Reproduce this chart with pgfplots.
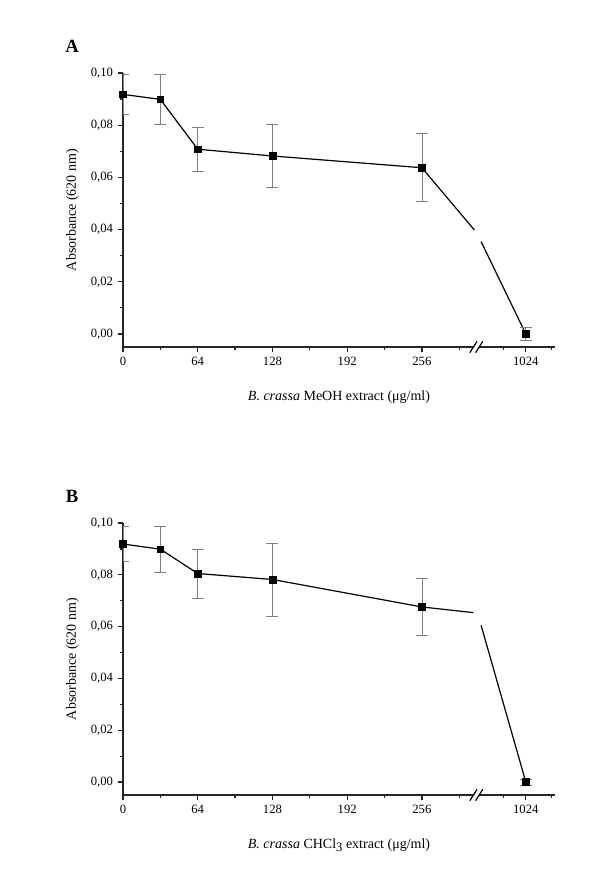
\documentclass[border=0pt]{standalone}
\usepackage{pgfplots}
\pgfplotsset{compat=1.18}
\usepackage{fontspec}
\setmainfont{Liberation Serif}
\begin{document}
\begin{tikzpicture}
\path[use as bounding box] (0pt,0pt) rectangle (450pt,-658.5pt);
\pgfplotsset{
 myax/.style={
  scale only axis, width=324pt,
  axis x line*=bottom, axis y line*=left,
  axis line style={-, line width=1.1pt, black!85},
  xmin=0, xmax=370, ymin=-0.005, ymax=0.10,
  xtick={0,64,128,192,256,345}, xticklabels={0,64,128,192,256,1024},
  minor xtick={32,96,160,224,288,326,367},
  ytick={0,0.02,0.04,0.06,0.08,0.10},
  yticklabels={{0,00},{0,02},{0,04},{0,06},{0,08},{0,10}},
  minor ytick={0.01,0.03,0.05,0.07,0.09},
  tick align=outside, major tick length=4pt, minor tick length=2.5pt,
  tick style={line width=0.9pt, black!85},
  tick label style={font=\fontsize{9.5}{11}\selectfont},
  label style={font=\fontsize{10.5}{12}\selectfont},
  xlabel style={yshift=-12pt},
  ylabel style={yshift=2pt},
  ylabel={Absorbance (620 nm)},
  clip mode=individual,
 },
 dat/.style={black, line width=0.9pt, no marks},
 pts/.style={only marks, mark=square*, mark size=2.5pt, black,
   error bars/.cd, y dir=both, y explicit,
   error mark=|,
   error bar style={gray, line width=0.6pt},
   error mark options={gray, line width=0.6pt, mark size=4.5pt}},
}
\node[font=\bfseries\fontsize{14}{16}\selectfont] at (54pt,-34.5pt) {A};
\begin{axis}[myax, height=205.5pt, at={(92.25pt,-260.25pt)}, anchor=south west,
  xlabel={\textit{B. crassa} MeOH extract (μg/ml)}]
\addplot[dat] coordinates {(0,0.0918)(32,0.0899)(64,0.0708)(128,0.0682)(256,0.0637)(301,0.0398)};
\addplot[dat] coordinates {(306.7,0.0354)(345,0)};
\addplot[pts] coordinates {
 (0,0.0918) +- (0,0.0076)
 (32,0.0899) +- (0,0.0097)
 (64,0.0708) +- (0,0.0085)
 (128,0.0682) +- (0,0.0122)
 (256,0.0637) +- (0,0.0130)
 (345,0.0000) +- (0,0.0026)
};
\coordinate (brkA) at (axis cs:302.6,-0.005);
\end{axis}
\fill[white] ([xshift=-2.2pt,yshift=-1.5pt]brkA) rectangle ([xshift=2.2pt,yshift=1.5pt]brkA);
\draw[line width=0.9pt] ([xshift=-4.9pt,yshift=-4.3pt]brkA) -- ([xshift=0.6pt,yshift=4.3pt]brkA);
\draw[line width=0.9pt] ([xshift=-0.6pt,yshift=-4.3pt]brkA) -- ([xshift=4.9pt,yshift=4.3pt]brkA);

\node[font=\bfseries\fontsize{14}{16}\selectfont] at (54pt,-372pt) {B};
\begin{axis}[myax, height=204pt, at={(92.25pt,-596.25pt)}, anchor=south west,
  xlabel={\textit{B. crassa} CHCl\raisebox{-0.5ex}{\fontsize{9.5}{10}\selectfont 3} extract (μg/ml)}]
\addplot[dat] coordinates {(0,0.0919)(32,0.0899)(64,0.0805)(128,0.0782)(256,0.0676)(300.1,0.0654)};
\addplot[dat] coordinates {(306.7,0.0605)(345,0)};
\addplot[pts] coordinates {
 (0,0.0919) +- (0,0.0067)
 (32,0.0899) +- (0,0.0088)
 (64,0.0805) +- (0,0.0095)
 (128,0.0782) +- (0,0.0141)
 (256,0.0676) +- (0,0.0110)
 (345,0.0000) +- (0,0.0011)
};
\coordinate (brkB) at (axis cs:302.6,-0.005);
\end{axis}
\fill[white] ([xshift=-2.2pt,yshift=-1.5pt]brkB) rectangle ([xshift=2.2pt,yshift=1.5pt]brkB);
\draw[line width=0.9pt] ([xshift=-4.9pt,yshift=-4.3pt]brkB) -- ([xshift=0.6pt,yshift=4.3pt]brkB);
\draw[line width=0.9pt] ([xshift=-0.6pt,yshift=-4.3pt]brkB) -- ([xshift=4.9pt,yshift=4.3pt]brkB);
\end{tikzpicture}
\end{document}
